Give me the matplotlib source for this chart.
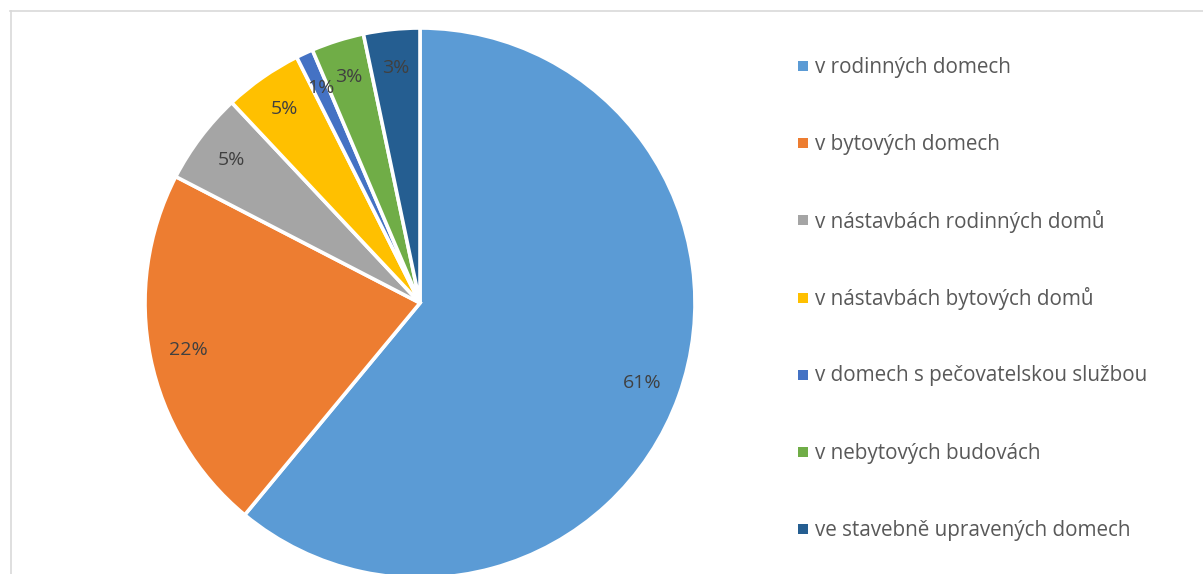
import matplotlib.pyplot as plt
from matplotlib.lines import Line2D

categories = [
    "v rodinných domech",
    "v bytových domech",
    "v nástavbách rodinných domů",
    "v nástavbách bytových domů",
    "v domech s pečovatelskou službou",
    "v nebytových budovách",
    "ve stavebně upravených domech",
]
shares = [61.0, 21.6, 5.4, 4.6, 1.0, 3.1, 3.3]
colors = ["#5B9BD5", "#ED7D31", "#A5A5A5", "#FFC000", "#4472C4", "#70AD47", "#255E91"]

W, H = 1203, 574
fig = plt.figure(figsize=(W / 100, H / 100), dpi=100)
ax = fig.add_axes([0, 0, 1, 1])

wedges, texts, autotexts = ax.pie(
    shares, colors=colors, startangle=90, counterclock=False,
    center=(420, H - 303), radius=275, autopct="%.0f%%", pctdistance=0.86,
    wedgeprops=dict(edgecolor="white", linewidth=2.6),
    textprops=dict(color="#404040", fontsize=14, family="Open Sans"),
)

# legend on the right
for i, (lab, c) in enumerate(zip(categories, colors)):
    y = H - (66 + i * 77.2)
    ax.scatter([803], [y], marker="s", s=50, color=c, linewidths=0)
    ax.text(815, y - 1, lab, va="center", ha="left", fontsize=14.9,
            color="#595959", family="Open Sans")

ax.set_xlim(0, W)
ax.set_ylim(0, H)
ax.set_aspect("equal")
ax.axis("off")

# chart frame (cropped)
fig.add_artist(Line2D([10.5 / W, 10.5 / W], [0, 1 - 11 / H], color="#D9D9D9", lw=1.2))
fig.add_artist(Line2D([10 / W, 1], [1 - 11 / H, 1 - 11 / H], color="#D9D9D9", lw=1.2))

fig.savefig("out.png", dpi=100)
